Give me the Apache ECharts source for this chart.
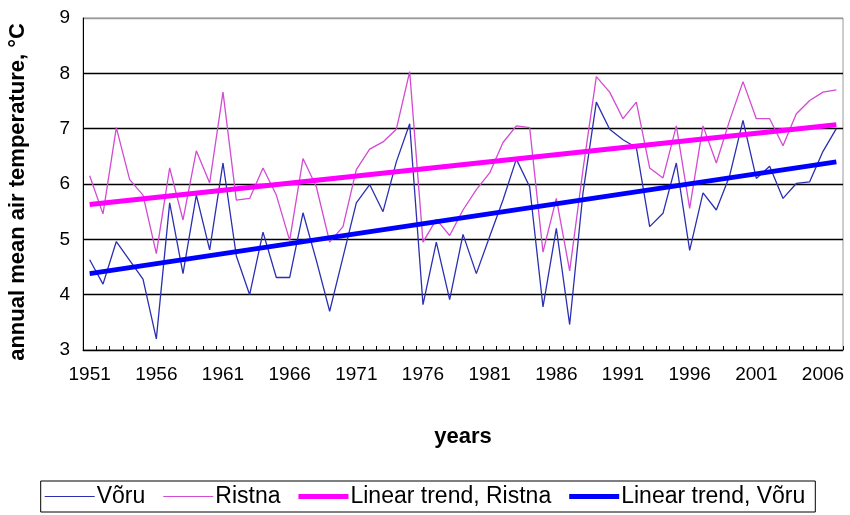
<!DOCTYPE html>
<html>
<head>
<meta charset="utf-8">
<script src="https://cdn.jsdelivr.net/npm/echarts@6/dist/echarts.min.js"></script>
<style>
html,body{margin:0;padding:0;background:#fff;}
#chart{width:850px;height:515px;}
</style>
</head>
<body>
<div id="chart"></div>
<script>
var years = ['1951','1952','1953','1954','1955','1956','1957','1958','1959','1960',
  '1961','1962','1963','1964','1965','1966','1967','1968','1969','1970',
  '1971','1972','1973','1974','1975','1976','1977','1978','1979','1980',
  '1981','1982','1983','1984','1985','1986','1987','1988','1989','1990',
  '1991','1992','1993','1994','1995','1996','1997','1998','1999','2000',
  '2001','2002','2003','2004','2005','2006','2007'];
var voru = [4.63,4.19,4.96,4.62,4.28,3.20,5.66,4.38,5.80,4.81,
  6.38,4.70,4.00,5.13,4.31,4.31,5.48,4.62,3.70,4.68,
  5.66,5.99,5.50,6.40,7.09,3.82,4.95,3.91,5.09,4.38,
  5.05,5.71,6.45,5.95,3.78,5.20,3.46,5.84,7.48,6.99,
  6.80,6.66,5.23,5.47,6.38,4.80,5.84,5.53,6.15,7.15,
  6.10,6.32,5.74,6.01,6.04,6.59,7.00];
var ristna = [6.15,5.46,7.02,6.08,5.80,4.74,6.29,5.35,6.60,6.02,
  7.66,5.71,5.74,6.29,5.80,4.98,6.46,5.95,4.95,5.23,
  6.26,6.63,6.76,6.99,8.03,4.95,5.36,5.07,5.53,5.90,
  6.20,6.75,7.05,7.02,4.77,5.74,4.43,6.26,7.94,7.66,
  7.18,7.48,6.29,6.11,7.05,5.56,7.05,6.38,7.15,7.85,
  7.18,7.18,6.69,7.27,7.51,7.66,7.70];
// linear trend end points [first year value, last year value]
var trendRistna = [5.63, 7.07];
var trendVoru = [4.38, 6.40];
var yTicks = [3,4,5,6,7,8,9];

var chart = echarts.init(document.getElementById('chart'), null, {renderer:'canvas'});
var ff = "'Liberation Sans', Arial, sans-serif";
var first = years[0], last = years[years.length-1];
// legend icons: full-height bounding box, visible band thin or thick
var thinIcon = 'path://M0,0L50,0L50,0Z M0,5.4L50,5.4L50,6.6L0,6.6Z M0,12L50,12L50,12Z';
var thickIcon = 'path://M0,0L50,0L50,0Z M0,3.6L50,3.6L50,8.4L0,8.4Z M0,12L50,12L50,12Z';
chart.setOption({
  animation:false,
  backgroundColor:'#fff',
  grid:{left:83, right:7, top:18, bottom:165, show:true, borderColor:'#9a9a9a', borderWidth:1,
        containLabel:false, outerBoundsMode:'none'},
  xAxis:{
    type:'category', data:years, boundaryGap:true,
    axisLine:{lineStyle:{color:'#000', width:1}},
    axisTick:{show:true, interval:0, inside:true, length:4, lineStyle:{color:'#000'}},
    axisLabel:{interval:4, color:'#000', fontFamily:ff, fontSize:19, margin:15},
    name:'years', nameLocation:'middle', nameGap:76,
    nameTextStyle:{color:'#000', fontFamily:ff, fontWeight:'bold', fontSize:22}
  },
  yAxis:{
    type:'value', min:yTicks[0], max:yTicks[yTicks.length-1], interval:1,
    axisLine:{show:true, lineStyle:{color:'#000', width:1}},
    axisTick:{show:false},
    axisLabel:{color:'#000', fontFamily:ff, fontSize:19, margin:13},
    splitLine:{show:true, lineStyle:{color:['#000','#000','#000','#000','#000','#000','#9a9a9a'], width:1.3}},
    name:'annual mean air temperature, °C', nameLocation:'middle', nameRotate:90, nameGap:54,
    nameTextStyle:{color:'#000', fontFamily:ff, fontWeight:'bold', fontSize:22, padding:[0,16,0,0]}
  },
  legend:{
    bottom:3, left:'center',
    borderColor:'#000', borderWidth:1, padding:[4,10,4,4],
    itemWidth:50, itemHeight:12, itemGap:18,
    textStyle:{color:'#000', fontFamily:ff, fontSize:23, padding:[0,0,0,-3]},
    data:[
      {name:'Võru', icon:thinIcon},
      {name:'Ristna', icon:thinIcon},
      {name:'Linear trend, Ristna', icon:thickIcon},
      {name:'Linear trend, Võru', icon:thickIcon}
    ]
  },
  series:[
    {name:'Võru', type:'line', data:voru, symbol:'none', lineStyle:{color:'#2b2fb0', width:1.3}, itemStyle:{color:'#2b2fb0'}, z:3},
    {name:'Ristna', type:'line', data:ristna, symbol:'none', lineStyle:{color:'#d34ad3', width:1.3}, itemStyle:{color:'#d34ad3'}, z:3},
    {name:'Linear trend, Ristna', type:'line', data:[[first,trendRistna[0]],[last,trendRistna[1]]], symbol:'none', lineStyle:{color:'#ff00ff', width:5}, itemStyle:{color:'#ff00ff'}, z:4},
    {name:'Linear trend, Võru', type:'line', data:[[first,trendVoru[0]],[last,trendVoru[1]]], symbol:'none', lineStyle:{color:'#0000ff', width:5}, itemStyle:{color:'#0000ff'}, z:4}
  ]
});
</script>
</body>
</html>
